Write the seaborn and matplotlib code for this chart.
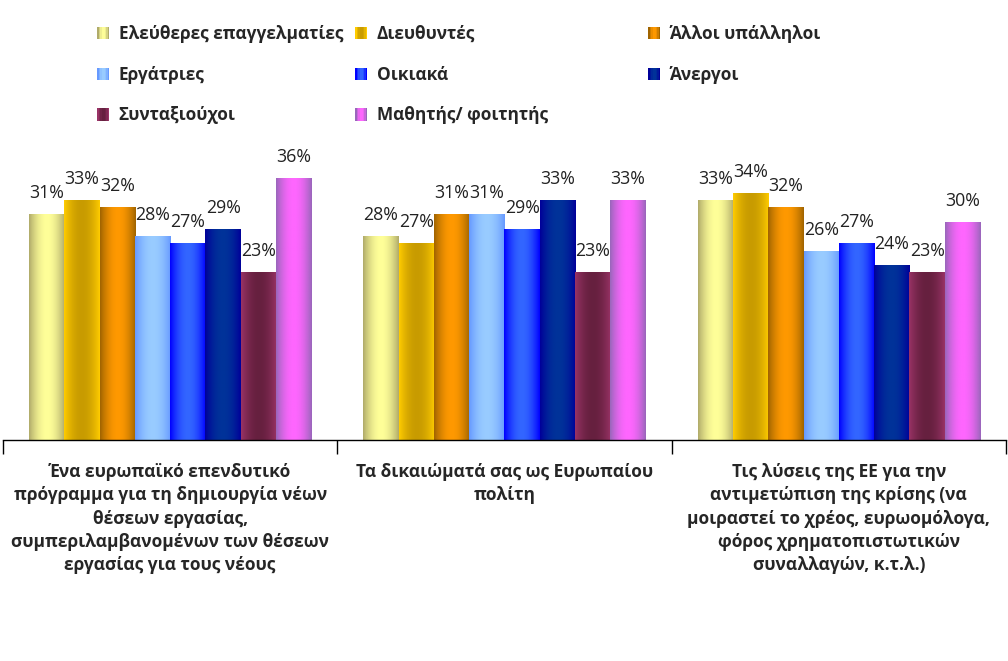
import numpy as np
import pandas as pd
import matplotlib
matplotlib.use("Agg")
import matplotlib.pyplot as plt
import seaborn as sns
from matplotlib.patches import Patch, Rectangle
from matplotlib.legend_handler import HandlerBase
from matplotlib.colors import to_rgb

topics = [
    "Ένα ευρωπαϊκό επενδυτικό\nπρόγραμμα για τη δημιουργία νέων\nθέσεων εργασίας,\nσυμπεριλαμβανομένων των θέσεων\nεργασίας για τους νέους",
    "Τα δικαιώματά σας ως Ευρωπαίου\nπολίτη",
    "Τις λύσεις της ΕΕ για την\nαντιμετώπιση της κρίσης (να\nμοιραστεί το χρέος, ευρωομόλογα,\nφόρος χρηματοπιστωτικών\nσυναλλαγών, κ.τ.λ.)",
]
groups = ["Ελεύθερες επαγγελματίες", "Διευθυντές", "Άλλοι υπάλληλοι", "Εργάτριες",
          "Οικιακά", "Άνεργοι", "Συνταξιούχοι", "Μαθητής/ φοιτητής"]
values = {
    "Ελεύθερες επαγγελματίες": [31, 28, 33],
    "Διευθυντές": [33, 27, 34],
    "Άλλοι υπάλληλοι": [32, 31, 32],
    "Εργάτριες": [28, 31, 26],
    "Οικιακά": [27, 29, 27],
    "Άνεργοι": [29, 33, 24],
    "Συνταξιούχοι": [23, 23, 23],
    "Μαθητής/ φοιτητής": [36, 33, 30],
}
# (edge colour, centre colour) of each bar's horizontal gradient
edge_cols = ["#b0ab6a", "#ffcc00", "#a06400", "#6699ff", "#0000ff", "#000099", "#993366", "#9966bb"]
mid_cols = ["#ffff99", "#c89b00", "#ff9900", "#99ccff", "#3366ff", "#003399", "#66203f", "#ff66ff"]

rows = []
for g in groups:
    for t, v in zip(topics, values[g]):
        rows.append({"topic": t, "group": g, "value": v})
df = pd.DataFrame(rows)

sns.set_style("white")
plt.rcParams["font.family"] = ["Open Sans", "DejaVu Sans"]

fig = plt.figure(figsize=(10.08, 6.61), dpi=100)
ax = fig.add_axes([3 / 1008, 1 - 440 / 661, 1003 / 1008, 300 / 661])

sns.barplot(data=df, x="topic", y="value", hue="group", hue_order=groups,
            order=topics, width=0.845, palette=mid_cols, legend=False, ax=ax)


def grad(edge, mid, n=64):
    t = np.linspace(0, 1, n)
    w = np.sin(np.pi * t) ** 0.9
    e = np.array(to_rgb(edge))
    m = np.array(to_rgb(mid))
    return (e[None, :] + (m - e)[None, :] * w[:, None])[None, :, :]


for i, cont in enumerate(ax.containers):
    img = grad(edge_cols[i], mid_cols[i])
    for bar in cont:
        x0, w, h = bar.get_x(), bar.get_width(), bar.get_height()
        bar.set_visible(False)
        ax.imshow(img, extent=[x0, x0 + w, 0, h], aspect="auto", zorder=2,
                  interpolation="bilinear")
    ax.bar_label(cont, fmt="%d%%", padding=9, fontsize=12.8, color="#222222")

ax.set_xlim(-0.5, 2.5)
ax.set_ylim(0, 41.3)
ax.set_xlabel("")
ax.set_ylabel("")
ax.set_yticks([])
for s in ["left", "top", "right"]:
    ax.spines[s].set_visible(False)
ax.spines["bottom"].set_color("black")
ax.spines["bottom"].set_linewidth(1.0)

ax.set_xticks([0, 1, 2])
ax.set_xticklabels(topics, fontsize=12.5, fontweight="bold", linespacing=1.38)
ax.set_xticks([-0.5, 0.5, 1.5, 2.5], minor=True)
ax.tick_params(axis="x", which="major", length=0, pad=16.5)
ax.tick_params(axis="x", which="minor", length=10, width=1, color="black",
               direction="out", bottom=True)


class GradHandler(HandlerBase):
    def create_artists(self, legend, orig_handle, xdescent, ydescent,
                       width, height, fontsize, trans):
        edge = orig_handle.get_edgecolor()
        mid = orig_handle.get_facecolor()
        cols = grad(edge, mid, 8)[0]
        n = len(cols)
        arts = []
        for k, c in enumerate(cols):
            r = Rectangle((-xdescent + k * width / n, -ydescent), width / n + 0.05, height,
                          facecolor=c, edgecolor="none", transform=trans)
            arts.append(r)
        return arts


handles = [Patch(facecolor=m, edgecolor=e, label=g) for g, e, m in zip(groups, edge_cols, mid_cols)]
col_idx = [[0, 3, 6], [1, 4, 7], [2, 5]]
col_x = [97, 355, 648]
for idx, cx in zip(col_idx, col_x):
    leg = fig.legend(handles=[handles[i] for i in idx], loc="upper left",
                     bbox_to_anchor=(cx / 1008, 1 - 25 / 661), frameon=False,
                     borderpad=0, borderaxespad=0, prop={"weight": "bold", "size": 12.4},
                     handlelength=0.72, handleheight=0.72, handletextpad=0.55,
                     labelspacing=1.32, handler_map={Patch: GradHandler()})

fig.savefig("out.png", dpi=100)
